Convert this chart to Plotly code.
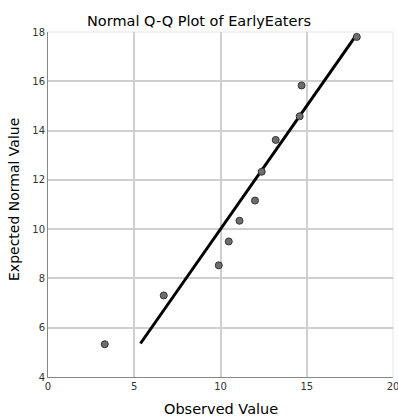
import plotly.graph_objects as go

observed = [3.29, 6.71, 9.90, 10.48, 11.10, 12.00, 12.39, 13.20, 14.59, 14.70, 17.90]
expected = [5.33, 7.31, 8.53, 9.50, 10.34, 11.16, 12.33, 13.62, 14.58, 15.83, 17.80]
line_range = [5.36, 17.86]

x_ticks = [0, 5, 10, 15, 20]
y_ticks = [4, 6, 8, 10, 12, 14, 16, 18]

fig = go.Figure()
fig.add_trace(go.Scatter(
    x=line_range, y=line_range, mode="lines",
    line=dict(color="black", width=3), showlegend=False, hoverinfo="skip"))
fig.add_trace(go.Scatter(
    x=observed, y=expected, mode="markers",
    marker=dict(size=7, color="#6e6e6e", line=dict(color="#333333", width=1)),
    showlegend=False))

fnt = "DejaVu Sans, sans-serif"
W, H = 398, 418
L, R, T, B = 48, 5, 32, 41
edge = "#e6e6e6"
fig.update_layout(
    width=W, height=H,
    margin=dict(l=L, r=R, t=T, b=B, autoexpand=False),
    paper_bgcolor="white", plot_bgcolor="white",
    font=dict(family=fnt, color="#222222"),
    title=dict(text="Normal Q-Q Plot of EarlyEaters", x=0.5, xanchor="center", xref="container",
               y=1 - 20.5 / H, yanchor="middle", font=dict(size=14.5, family=fnt, color="#000000")),
    xaxis=dict(range=[0, 20], tickvals=x_ticks, showgrid=True, gridcolor="#cfcfcf", gridwidth=1.5,
               showline=True, linecolor="#888888", linewidth=1, zeroline=False, automargin=False,
               tickfont=dict(size=10, color="#333333"), ticks="", ticklen=0,
               ticklabeloverflow="allow"),
    yaxis=dict(range=[4, 18], tickvals=y_ticks, showgrid=True, gridcolor="#cfcfcf", gridwidth=1.5,
               showline=True, linecolor="#888888", linewidth=1, zeroline=False, automargin=False,
               tickfont=dict(size=10, color="#333333"), ticks="", ticklabeloverflow="allow"),
    shapes=[
        dict(type="line", xref="paper", yref="paper", x0=0, x1=1, y0=1, y1=1,
             line=dict(color=edge, width=1), layer="below"),
        dict(type="line", xref="paper", yref="paper", x0=1, x1=1, y0=0, y1=1,
             line=dict(color=edge, width=1), layer="below"),
    ],
    annotations=[
        dict(text="Observed Value", xref="paper", yref="paper", x=0.5,
             y=-(409 - (H - B)) / (H - T - B), xanchor="center", yanchor="middle",
             showarrow=False, font=dict(size=14.5, family=fnt, color="#000000")),
        dict(text="Expected Normal Value", xref="paper", yref="paper",
             x=-(L - 14) / (W - L - R), y=1 - (200 - T) / (H - T - B), xanchor="center", yanchor="middle",
             textangle=-90, showarrow=False, font=dict(size=14, family=fnt, color="#000000")),
    ],
)

fig.write_html("out.html", config={"displayModeBar": False},
               post_script="document.body.style.margin='0';document.body.style.overflow='hidden';")
